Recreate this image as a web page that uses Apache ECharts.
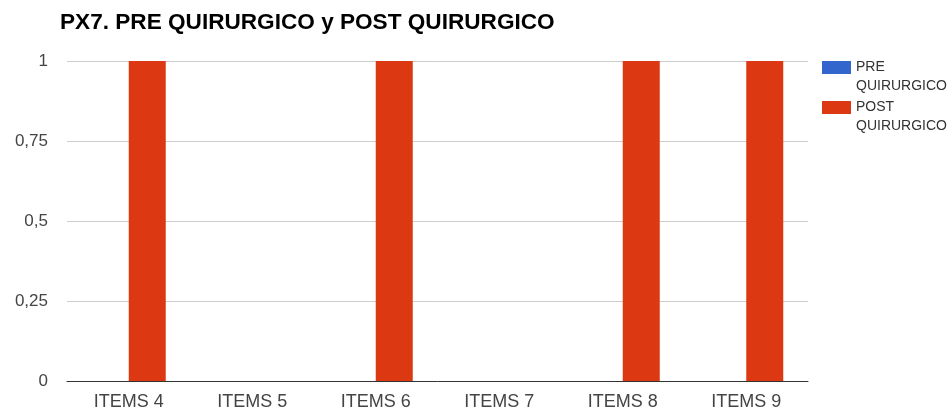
<!DOCTYPE html>
<html><head><meta charset="utf-8">
<script src="https://cdn.jsdelivr.net/npm/echarts@6/dist/echarts.min.js"></script>
<style>html,body{margin:0;padding:0;background:#fff}#c{width:952px;height:413px}</style>
</head><body><div id="c"></div>
<script>
const categories = ['ITEMS 4','ITEMS 5','ITEMS 6','ITEMS 7','ITEMS 8','ITEMS 9'];
const preValues = [0,0,0,0,0,0];
const postValues = [1,0,1,0,1,1];
const seriesNames = ['PRE QUIRURGICO','POST QUIRURGICO'];
const yTicks = [0,0.25,0.5,0.75,1];

const chart = echarts.init(document.getElementById('c'));
const font = '"Liberation Sans", Arial, sans-serif';
chart.setOption({
  animation:false,
  textStyle:{fontFamily:font},
  title:{text:'PX7. PRE QUIRURGICO y POST QUIRURGICO',left:55,top:6,
    textStyle:{fontSize:22.6,fontWeight:'bold',color:'#000',fontFamily:font}},
  legend:{orient:'vertical',left:817,top:34,itemWidth:29,itemHeight:13,itemGap:-17,
    icon:'rect',
    formatter:n=>' \n'+n.replace(' ','\n'),
    textStyle:{fontSize:14,color:'#333',lineHeight:19,fontFamily:font},
    data:seriesNames},
  grid:{left:67,right:144,top:61,bottom:32},
  xAxis:{type:'category',data:categories,
    axisLine:{lineStyle:{color:'#333'}},axisTick:{show:false},
    axisLabel:{color:'#444',fontSize:18,margin:12,fontFamily:font}},
  yAxis:{type:'value',min:0,max:1,interval:0.25,
    axisLine:{show:false},axisTick:{show:false},
    splitLine:{lineStyle:{color:'#ccc'}},
    axisLabel:{color:'#444',fontSize:17,margin:19,fontFamily:font,
      formatter:v=>yTicks.includes(v)?String(v).replace('.',','):''}},
  series:[
    {name:seriesNames[0],type:'bar',data:preValues,barWidth:37,barGap:'0%',itemStyle:{color:'#3366cc'}},
    {name:seriesNames[1],type:'bar',data:postValues,barWidth:37,barGap:'0%',itemStyle:{color:'#dc3912'}}
  ]
});
</script></body></html>
